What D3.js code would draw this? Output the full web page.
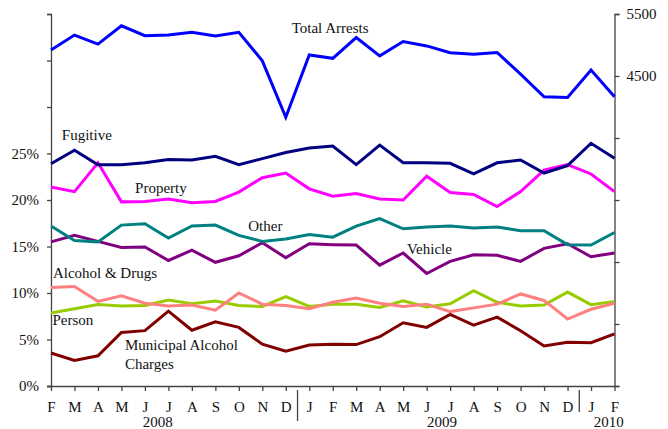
<!DOCTYPE html>
<html>
<head>
<meta charset="utf-8">
<script src="https://cdn.jsdelivr.net/npm/d3@7/dist/d3.min.js"></script>
<style>
  html, body { margin: 0; padding: 0; background: #fff; }
  svg { display: block; }
  svg text { font-family: "Liberation Serif", "Times New Roman", "DejaVu Serif", serif !important; fill: #111; }
</style>
</head>
<body>
<svg id="chart" width="668" height="429" font-family="Liberation Serif, serif"></svg>
<script>
// ---- Data ----
const months = ["F","M","A","M","J","J","A","S","O","N","D","J","F","M","A","M","J","J","A","S","O","N","D","J","F"];
const years = ["2008", "2009", "2010"];
const yearCenters = [4.55, 16.65, 23.75];   // month-index positions of year labels
const yearBreaks = [10.5, 22.5];            // month-index positions of year separators

const totalArrests = [4920,5160,5015,5310,5150,5160,5205,5145,5205,4745,3835,4840,4785,5120,4825,5055,4985,4875,4850,4880,4530,4165,4155,4595,4165];
const fugitive     = [23.9,25.35,23.8,23.8,24.0,24.35,24.3,24.7,23.8,24.45,25.1,25.6,25.8,23.8,25.9,24.0,24.0,23.95,22.8,24.0,24.3,22.9,23.7,26.1,24.5];
const property     = [21.4,20.9,24.0,19.8,19.85,20.1,19.7,19.85,20.85,22.4,22.9,21.2,20.4,20.7,20.1,20.0,22.55,20.8,20.6,19.3,20.9,23.2,23.8,22.8,20.9];
const other        = [17.2,15.65,15.5,17.3,17.45,15.9,17.2,17.3,16.2,15.55,15.8,16.3,16.0,17.2,18.0,16.9,17.1,17.2,17.0,17.1,16.7,16.7,15.2,15.15,16.5];
const vehicle      = [15.5,16.2,15.55,14.9,14.95,13.5,14.6,13.3,14.0,15.4,13.8,15.3,15.2,15.15,13.0,14.3,12.1,13.4,14.1,14.05,13.4,14.8,15.3,13.9,14.3];
const alcoholDrugs = [10.6,10.7,9.1,9.7,8.9,8.6,8.7,8.15,10.0,8.8,8.65,8.3,9.0,9.45,8.9,8.55,8.8,8.0,8.4,8.8,9.9,9.2,7.2,8.25,8.9];
const person       = [7.85,8.3,8.75,8.6,8.65,9.25,8.85,9.15,8.65,8.55,9.6,8.55,8.8,8.8,8.45,9.15,8.5,8.85,10.25,9.0,8.6,8.7,10.1,8.75,9.1];
const municipal    = [3.55,2.75,3.25,5.75,5.95,8.05,6.0,6.9,6.3,4.5,3.75,4.4,4.5,4.45,5.3,6.8,6.3,7.7,6.55,7.4,5.95,4.3,4.7,4.65,5.6];

const leftTicks = [0,5,10,15,20,25,30,35,40];
const leftLabelMax = 25;
const rightTicks = [-500,500,1500,2500,3500,4500,5500];
const rightLabelMin = 4500;

// ---- Layout ----
const svg = d3.select("#chart");
const plotLeft = 51, plotRight = 614.5, plotTop = 14, plotBottom = 386;
const fontFam = '"Liberation Serif", "Times New Roman", serif';

const x = d3.scaleLinear().domain([0, months.length - 1]).range([plotLeft, plotRight]);
const yL = d3.scaleLinear().domain([0, 40]).range([plotBottom, plotTop]);
const yR = d3.scaleLinear().domain([-500, 5500]).range([plotBottom, plotTop]);

const axisColor = "#444";

// Left axis
const gL = svg.append("g").attr("transform", `translate(${plotLeft},0)`)
  .call(d3.axisLeft(yL).tickValues(leftTicks).tickSize(4).tickPadding(8)
    .tickFormat(d => d <= leftLabelMax ? d + "%" : ""));
// Right axis
const gR = svg.append("g").attr("transform", `translate(${plotRight},0)`)
  .call(d3.axisRight(yR).tickValues(rightTicks).tickSize(5).tickPadding(7)
    .tickFormat(d => d >= rightLabelMin ? d : ""));
// Bottom axis
const gB = svg.append("g").attr("transform", `translate(0,${plotBottom})`)
  .call(d3.axisBottom(x).tickValues(d3.range(months.length)).tickSize(5).tickPadding(10)
    .tickFormat(i => months[i]));

[gL, gR, gB].forEach(g => {
  g.attr("font-family", fontFam).attr("font-size", 15);
  g.selectAll(".domain").attr("stroke", axisColor).attr("stroke-width", 1.3);
  g.selectAll(".tick line").attr("stroke", axisColor).attr("stroke-width", 1.3);
  g.selectAll(".tick text").style("font-family", fontFam)
    .style("font-size", "15px").attr("fill", "#111");
});
gB.select(".domain").attr("d", `M${plotLeft - 4},0.5H${plotRight}`);

// Year separators
svg.selectAll(".sep").data(yearBreaks).enter().append("line")
  .attr("x1", d => x(d)).attr("x2", d => x(d))
  .attr("y1", plotBottom + 4).attr("y2", (d, i) => i === 0 ? 421 : 412)
  .attr("stroke", axisColor).attr("stroke-width", 1.3);

// Year labels
svg.selectAll(".year").data(years).enter().append("text")
  .attr("x", (d, i) => x(yearCenters[i])).attr("y", 427)
  .attr("text-anchor", "middle").style("font-family", fontFam).style("font-size", "15px").text(d => d);

// ---- Series ----
const series = [
  { name: "Fugitive", values: fugitive, color: "#000080", scale: yL },
  { name: "Property", values: property, color: "#ff00ff", scale: yL },
  { name: "Other", values: other, color: "#008080", scale: yL },
  { name: "Vehicle", values: vehicle, color: "#800080", scale: yL },
  { name: "Alcohol & Drugs", values: alcoholDrugs, color: "#ff8080", scale: yL },
  { name: "Person", values: person, color: "#99cc00", scale: yL },
  { name: "Municipal Alcohol Charges", values: municipal, color: "#800000", scale: yL },
  { name: "Total Arrests", values: totalArrests, color: "#0000ff", scale: yR }
];

const drawOrder = ["Person","Alcohol & Drugs","Municipal Alcohol Charges","Vehicle","Other","Property","Fugitive","Total Arrests"];
drawOrder.forEach(n => {
  const s = series.find(q => q.name === n);
  const line = d3.line().x((d, i) => x(i)).y(d => s.scale(d));
  svg.append("path").datum(s.values)
    .attr("d", line).attr("fill", "none")
    .attr("stroke", s.color).attr("stroke-width", 3);
});

// ---- Series labels (placed in data coordinates: month index, percent) ----
const labelPlacements = [
  { lines: ["Total Arrests"], i: 10.25, v: 38.0 },
  { lines: ["Fugitive"], i: 0.46, v: 26.5 },
  { lines: ["Property"], i: 3.58, v: 20.78 },
  { lines: ["Other"], i: 8.4, v: 16.7 },
  { lines: ["Vehicle"], i: 15.16, v: 14.16 },
  { lines: ["Alcohol & Drugs"], i: 0.08, v: 11.65 },
  { lines: ["Person"], i: 0.06, v: 6.56 },
  { lines: ["Municipal Alcohol", "Charges"], i: 3.15, v: 3.82 }
];
labelPlacements.forEach(l => {
  const t = svg.append("text").attr("x", x(l.i)).attr("y", yL(l.v))
    .style("font-family", fontFam).style("font-size", "15px");
  l.lines.forEach((ln, k) => {
    t.append("tspan").attr("x", x(l.i)).attr("dy", k === 0 ? 0 : 19).text(ln);
  });
});
</script>
</body>
</html>
